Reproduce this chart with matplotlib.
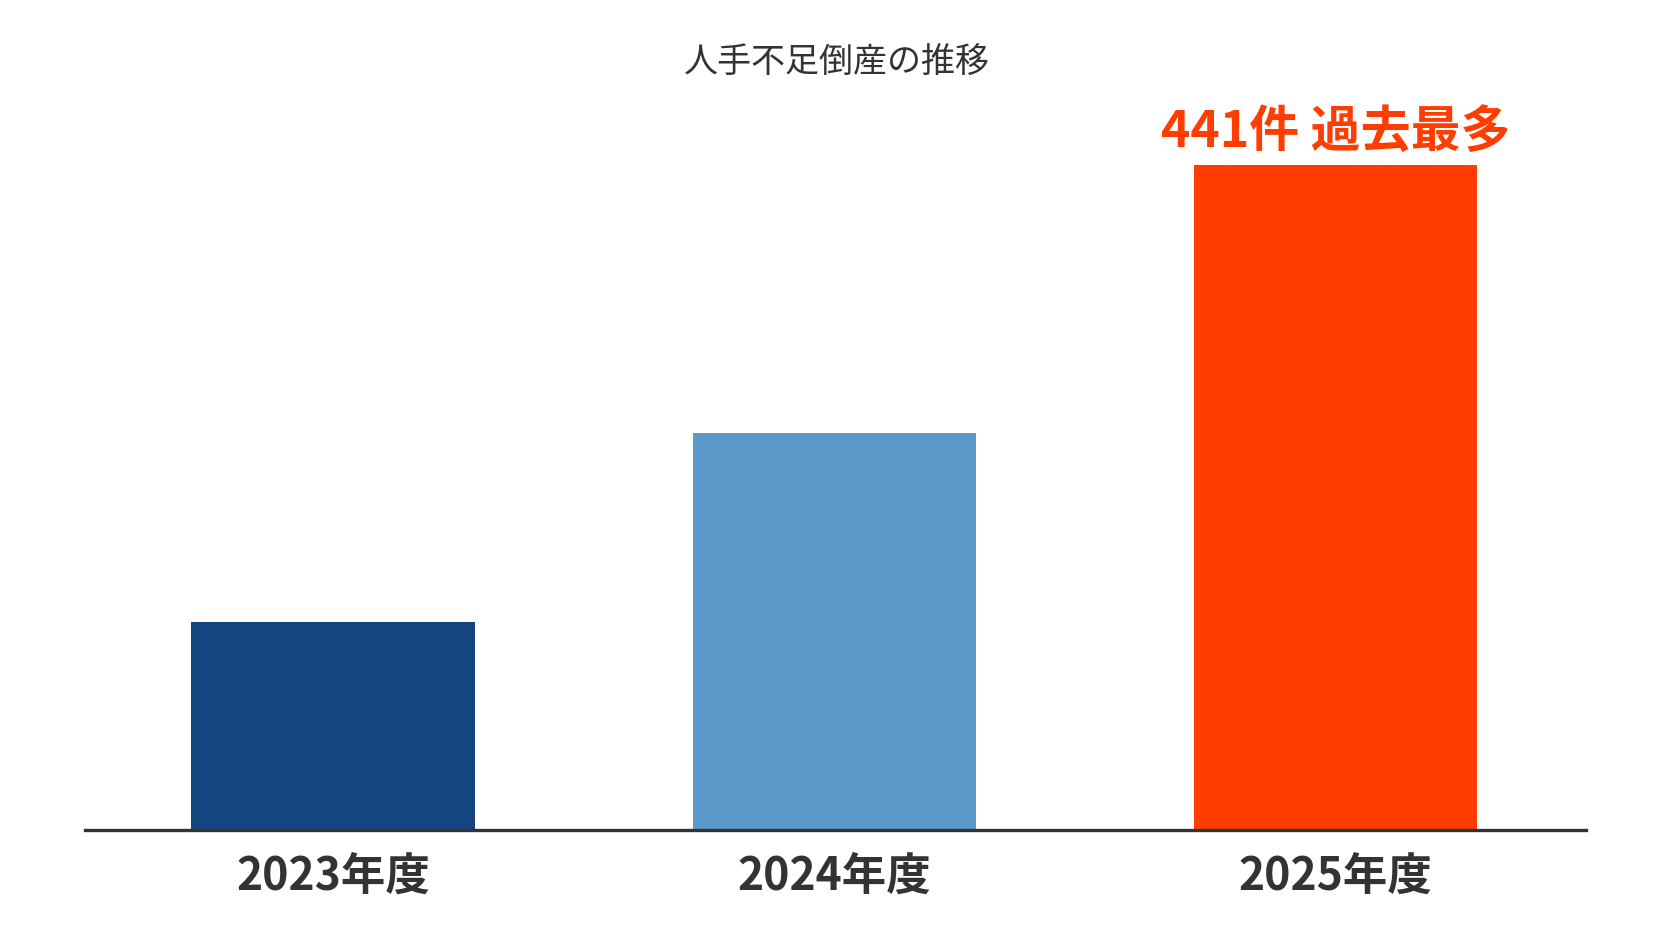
import matplotlib
matplotlib.use("Agg")
import matplotlib.pyplot as plt

plt.rcParams['font.family'] = ['Noto Sans CJK JP', 'DejaVu Sans']

# data
years = ["2023年度", "2024年度", "2025年度"]
counts = [138, 263, 441]
bar_colors = ["#15457e", "#5b99cb", "#ff3d00"]
title = "人手不足倒産の推移"
note = "441件 過去最多"

W, H = 1672, 941
fig = plt.figure(figsize=(W / 100, H / 100), dpi=100)
fig.patch.set_facecolor("white")

# axes placed so the baseline sits at ~830px from top
ax = fig.add_axes([85 / W, 111 / H, (1586 - 85) / W, 694 / H])
x = range(len(years))
ax.bar(x, counts, width=0.565, color=bar_colors, zorder=2)
ax.set_xlim(-0.495, 2.50)
ax.set_ylim(0, 460)

for s in ["top", "left", "right"]:
    ax.spines[s].set_visible(False)
ax.spines["bottom"].set_color("#333333")
ax.spines["bottom"].set_linewidth(2.4)
ax.spines["bottom"].set_zorder(3)
ax.set_yticks([])
ax.set_xticks(list(x))
ax.set_xticklabels(years, fontsize=32, fontweight="bold", color="#333333")
ax.tick_params(axis="x", length=0, pad=17)

# callout on the latest year
ax.annotate(note, xy=(2, counts[2]), xytext=(0, 13), textcoords="offset points",
            ha="center", va="baseline", fontsize=36, fontweight="bold",
            color="#ff3d00")

fig.text(837 / W, 1 - 63 / H, title, ha="center", va="center",
         fontsize=24.5, color="#333333")

fig.savefig("out.png", dpi=100)
